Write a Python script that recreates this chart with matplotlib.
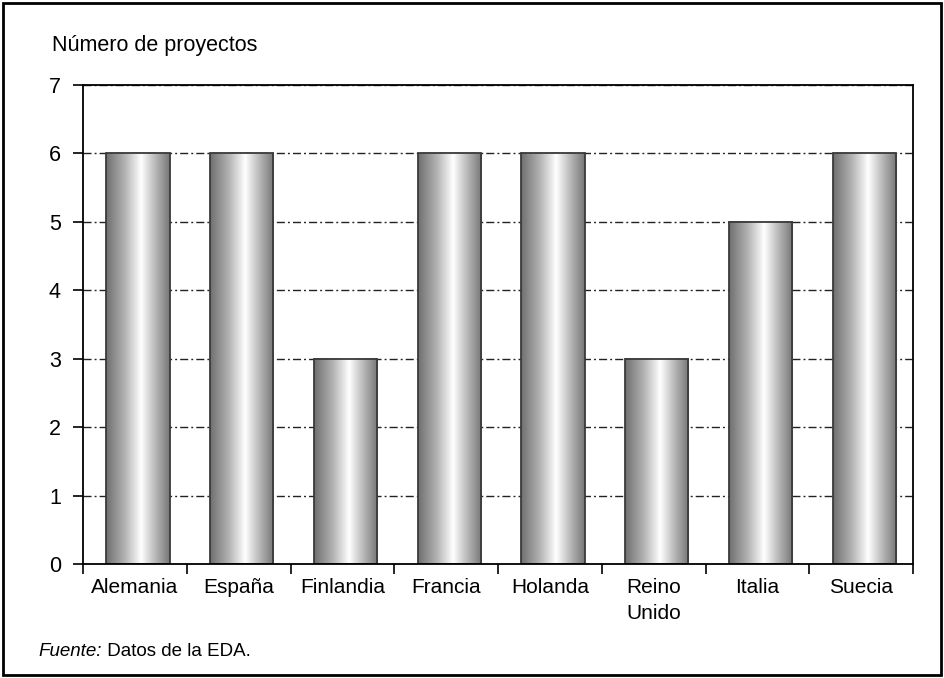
import numpy as np
import matplotlib.pyplot as plt
from matplotlib.colors import LinearSegmentedColormap
from matplotlib.patches import Rectangle

# Datos
paises = ['Alemania', 'España', 'Finlandia', 'Francia', 'Holanda',
          'Reino\nUnido', 'Italia', 'Suecia']
proyectos = [6, 6, 3, 6, 6, 3, 5, 6]
y_ticks = [0, 1, 2, 3, 4, 5, 6, 7]

plt.rcParams['font.family'] = ['Liberation Sans', 'DejaVu Sans']

fig = plt.figure(figsize=(9.44, 6.78), dpi=100)
ax = fig.add_axes([83 / 944, 1 - 564 / 678, 830 / 944, 479 / 678])

x = np.arange(len(paises))
# las barras van un poco a la derecha del centro de cada categoria
bars = ax.bar(x + 0.03, proyectos, width=0.61, color='none',
              edgecolor='#3a3a3a', linewidth=1.3, zorder=3)

# Degradado cilindrico en cada barra
cmap = LinearSegmentedColormap.from_list(
    'cil', [(0, '#6f6f6f'), (0.3, '#b4b4b4'), (0.55, '#ffffff'),
            (0.8, '#b0b0b0'), (1, '#767676')])
grad = np.linspace(0, 1, 256).reshape(1, -1)
for b in bars:
    ax.imshow(grad, cmap=cmap, aspect='auto', zorder=2,
              extent=(b.get_x(), b.get_x() + b.get_width(), 0, b.get_height()))

ax.set_xlim(-0.5, len(paises) - 0.5)
ax.set_ylim(0, 7)
ax.set_yticks(y_ticks)
ax.yaxis.grid(True, linestyle=(0, (5.8, 2.2, 1.4, 2.2)), color='#222222',
              linewidth=1.0, zorder=1)
ax.set_xticks(x)
ax.set_xticklabels(paises, fontsize=15, linespacing=1.5)
ax.tick_params(axis='x', length=0, pad=10)
ax.set_xticks(np.arange(len(paises) + 1) - 0.5, minor=True)
ax.tick_params(axis='x', which='minor', length=7, width=1.2, direction='out')
ax.tick_params(axis='y', labelsize=15.5, length=7, width=1.2, pad=9)

for s in ax.spines.values():
    s.set_linewidth(1.3)
    s.set_zorder(4)

fig.text(52 / 944, 1 - 46 / 678, 'Número de proyectos', fontsize=15.5,
         va='center', ha='left')
t1 = fig.text(38 / 944, 1 - 651 / 678, 'Fuente:', fontsize=13.5,
              style='italic', va='center', ha='left')
ax.annotate(' Datos de la EDA.', xy=(1, 0.5), xycoords=t1, fontsize=13.5,
            va='center', ha='left', annotation_clip=False)

# Marco exterior
fig.patches.append(Rectangle((3 / 944, 3 / 678), 938 / 944, 672 / 678,
                             transform=fig.transFigure, fill=False,
                             edgecolor='black', linewidth=2))

fig.savefig('out.png', dpi=100)
